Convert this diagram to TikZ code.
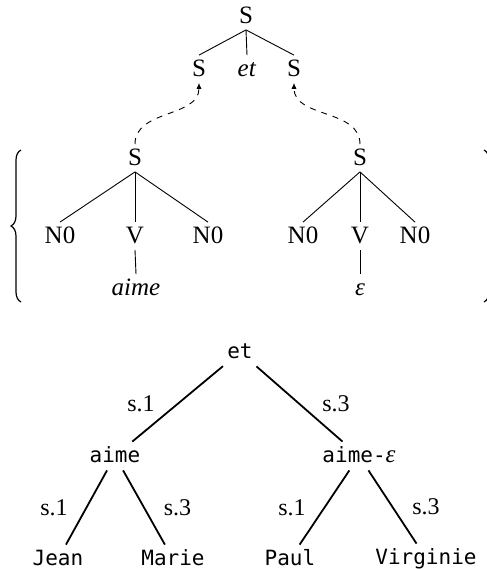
\documentclass[tikz,border=0pt]{standalone}
\usepackage{fontspec}
\setmainfont{Liberation Serif}
\setmonofont{DejaVu Sans Mono}
\usetikzlibrary{positioning,arrows.meta,decorations.pathreplacing}

\begin{document}
\begin{tikzpicture}[
    x=0.5pt, y=-0.5pt,
    cat/.style={
        inner sep=2pt,
        text height=8.5pt,
        text depth=1pt,
        font=\fontsize{12.5}{14}\selectfont
    },
    word/.style={
        inner sep=2pt,
        text height=8pt,
        text depth=2pt,
        font=\fontsize{10.5}{12}\selectfont\ttfamily
    },
    branch/.style={line width=0.45pt},
    dep/.style={line width=0.9pt},
    lab/.style={inner sep=2pt, font=\fontsize{12}{14}\selectfont},
    subst/.style={dashed, line width=0.45pt, -{Latex[length=3pt,width=2.6pt]}},
    bracegroup/.style={decorate, decoration={brace, amplitude=5pt}, line width=0.6pt}
]
\useasboundingbox (0,0) rectangle (487,569);

% derived tree
\node[cat] (top) at (246,16) {S};
\node[cat] (sl) at (199,69) {S};
\node[cat] (conj) at (247,69) {\textit{et}};
\node[cat] (sr) at (294,69) {S};

\draw[branch] (top.south) -- (sl.north);
\draw[branch] (top.south) -- (conj.north);
\draw[branch] (top.south) -- (sr.north);

% elementary trees
\node[cat] (ta) at (135,158) {S};
\node[cat] (ta1) at (60,236) {N0};
\node[cat] (ta2) at (135,236) {V};
\node[cat] (ta3) at (208,236) {N0};
\node[cat] (ta4) at (136,288) {\textit{aime}};

\node[cat] (tb) at (360,158) {S};
\node[cat] (tb1) at (303,236) {N0};
\node[cat] (tb2) at (360,236) {V};
\node[cat] (tb3) at (415,236) {N0};
\node[cat] (tb4) at (360,288) {\textit{ε}};

\draw[branch] (ta.south) -- (ta1.north);
\draw[branch] (ta.south) -- (ta2.north);
\draw[branch] (ta.south) -- (ta3.north);
\draw[branch] (ta2.south) -- (ta4.north);

\draw[branch] (tb.south) -- (tb1.north);
\draw[branch] (tb.south) -- (tb2.north);
\draw[branch] (tb.south) -- (tb3.north);
\draw[branch] (tb2.south) -- (tb4.north);

\draw[subst] (ta.north) to[out=90, in=-90] (sl.south);
\draw[subst] (tb.north) to[out=90, in=-90] (sr.south);

\coordinate (lbot) at (21,302);
\coordinate (ltop) at (21,150);
\coordinate (rtop) at (484,150);
\coordinate (rbot) at (484,302);
\draw[bracegroup] (lbot) -- (ltop);
\draw[bracegroup] (rtop) -- (rbot);

% derivation tree
\node[word] (et) at (240,352) {et};
\node[word] (aime) at (115,456) {aime};
\node[word] (aimeeps) at (359,456) {aime-{\fontsize{12.5}{14}\rmfamily\itshape ε}};
\node[word] (jean) at (58,559) {Jean};
\node[word] (marie) at (173,559) {Marie};
\node[word] (paul) at (290,559) {Paul};
\node[word] (virginie) at (426,558) {Virginie};

\draw[dep] (et) -- node[lab, midway, left=9pt] {s.1} (aime);
\draw[dep] (et) -- node[lab, midway, right=9pt] {s.3} (aimeeps);
\draw[dep] (aime) -- node[lab, midway, left=7pt] {s.1} (jean);
\draw[dep] (aime) -- node[lab, midway, right=7.5pt] {s.3} (marie);
\draw[dep] (aimeeps) -- node[lab, midway, left=7pt] {s.1} (paul);
\draw[dep] (aimeeps) -- node[lab, midway, right=7.5pt] {s.3} (virginie);

\end{tikzpicture}
\end{document}
